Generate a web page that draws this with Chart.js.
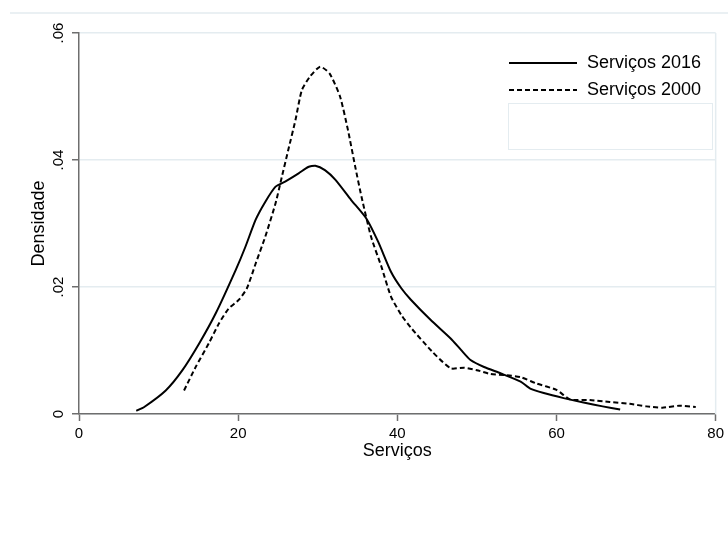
<!DOCTYPE html>
<html>
<head>
<meta charset="utf-8">
<script src="https://cdn.jsdelivr.net/npm/chart.js@4/dist/chart.umd.min.js"></script>
<style>
  html, body { margin: 0; padding: 0; background: #ffffff; }
  #wrap { width: 728px; height: 533px; }
</style>
</head>
<body>
<div id="wrap"><canvas id="c" width="728" height="533"></canvas></div>
<script>
// Kernel density estimates of the services share
const servicos2016X = [7.2, 8.2, 10.9, 13.0, 15.1, 17.2, 19.7, 20.9, 22.2, 23.4, 24.7, 25.9, 27.6, 28.8, 29.7, 30.9, 32.2, 34.2, 36.1, 37.6, 39.2, 40.5, 41.7, 44.2, 46.7, 48.0, 49.2, 50.9, 53.0, 55.5, 56.7, 58.4, 60.9, 63.4, 65.8, 68.0];
const servicos2016Y = [0.0005, 0.0011, 0.0037, 0.0069, 0.0111, 0.0159, 0.0227, 0.0263, 0.0306, 0.0334, 0.0358, 0.0366, 0.0379, 0.0389, 0.0391, 0.0384, 0.0369, 0.0337, 0.0308, 0.0271, 0.0224, 0.0198, 0.0180, 0.0148, 0.0119, 0.0101, 0.0085, 0.0074, 0.0064, 0.0051, 0.0040, 0.0033, 0.0025, 0.0018, 0.0012, 0.0007];

const servicos2000X = [13.2, 14.7, 16.3, 17.6, 18.8, 20.1, 21.1, 22.2, 23.4, 24.7, 25.5, 26.3, 27.2, 28.0, 29.0, 30.3, 31.5, 32.8, 33.8, 34.7, 35.5, 36.7, 38.0, 39.2, 40.5, 41.7, 44.4, 46.7, 48.4, 50.0, 51.7, 53.8, 55.5, 57.5, 60.0, 61.7, 64.2, 66.7, 69.2, 71.3, 73.3, 75.4, 77.5];
const servicos2000Y = [0.0037, 0.0075, 0.0111, 0.0143, 0.0166, 0.0180, 0.0198, 0.0237, 0.0279, 0.0332, 0.0374, 0.0416, 0.0463, 0.0510, 0.0531, 0.0547, 0.0536, 0.0500, 0.0447, 0.0390, 0.0342, 0.0279, 0.0232, 0.0185, 0.0156, 0.0136, 0.0098, 0.0072, 0.0073, 0.0069, 0.0063, 0.0061, 0.0058, 0.0048, 0.0038, 0.0023, 0.0022, 0.0019, 0.0016, 0.0012, 0.0010, 0.0013, 0.0011];

const seriesLabels = ['Serviços 2016', 'Serviços 2000'];
const xTicks = [0, 20, 40, 60, 80];
const yTicks = [0, 0.02, 0.04, 0.06];
const yTickLabels = ['0', '.02', '.04', '.06'];
const xTitle = 'Serviços';
const yTitle = 'Densidade';

const toPoints = (xs, ys) => xs.map((x, i) => ({ x: x, y: ys[i] }));

const FONT = "'Liberation Sans', Arial, sans-serif";
const AXIS = '#6e6e6e';
const LIGHT = '#e4ecf0';

// Light frame lines around the plot region and the outer graph region
const framePlugin = {
  id: 'frame',
  beforeDatasetsDraw(chart) {
    const { ctx, chartArea } = chart;
    ctx.save();
    ctx.strokeStyle = LIGHT;
    ctx.lineWidth = 1.5;
    ctx.beginPath();
    ctx.moveTo(10, 13);
    ctx.lineTo(728, 13);
    ctx.moveTo(chartArea.right, chartArea.top);
    ctx.lineTo(chartArea.right, chartArea.bottom);
    ctx.stroke();
    ctx.restore();
  }
};

// Legend keys drawn inside the plot region, top right
const keyPlugin = {
  id: 'keys',
  afterDraw(chart) {
    const { ctx } = chart;
    ctx.save();
    const x0 = 509, x1 = 577, tx = 587;
    const rows = [63, 90];
    chart.data.datasets.forEach((ds, i) => {
      const y = rows[i];
      ctx.strokeStyle = ds.borderColor;
      ctx.lineWidth = ds.borderWidth;
      ctx.setLineDash(ds.borderDash || []);
      ctx.beginPath();
      ctx.moveTo(x0, y);
      ctx.lineTo(x1, y);
      ctx.stroke();
      ctx.setLineDash([]);
      ctx.fillStyle = '#000';
      ctx.font = '18px ' + FONT;
      ctx.textBaseline = 'middle';
      ctx.textAlign = 'left';
      ctx.fillText(ds.label, tx, y);
    });
    ctx.strokeStyle = LIGHT;
    ctx.lineWidth = 1;
    ctx.strokeRect(508.5, 103.5, 204, 46);
    ctx.restore();
  }
};

new Chart(document.getElementById('c'), {
  type: 'line',
  data: {
    datasets: [
      {
        label: seriesLabels[0],
        data: toPoints(servicos2016X, servicos2016Y),
        borderColor: '#000000',
        borderWidth: 2,
        pointRadius: 0,
        tension: 0.2,
        fill: false
      },
      {
        label: seriesLabels[1],
        data: toPoints(servicos2000X, servicos2000Y),
        borderColor: '#000000',
        borderWidth: 2,
        borderDash: [5, 3],
        pointRadius: 0,
        tension: 0.2,
        fill: false
      }
    ]
  },
  options: {
    responsive: false,
    animation: false,
    events: [],
    layout: { padding: { top: 33, right: 8, left: 0, bottom: 0 } },
    plugins: {
      legend: { display: false },
      tooltip: { enabled: false }
    },
    scales: {
      x: {
        type: 'linear',
        min: 0,
        max: 80,
        afterBuildTicks(scale) { scale.ticks = xTicks.map(v => ({ value: v })); },
        afterFit(scale) { scale.height = 119; },
        grid: { drawOnChartArea: false, drawTicks: true, tickLength: 7, tickColor: AXIS, tickWidth: 1.5 },
        border: { color: AXIS, width: 1.5 },
        ticks: {
          padding: 4,
          color: '#000',
          font: { family: FONT, size: 15 },
          maxRotation: 0,
          callback: v => String(v)
        },
        title: {
          display: true,
          text: xTitle,
          color: '#000',
          font: { family: FONT, size: 18 },
          padding: { top: 0, bottom: 71 }
        }
      },
      y: {
        type: 'linear',
        min: 0,
        max: 0.06,
        afterBuildTicks(scale) { scale.ticks = yTicks.map(v => ({ value: v })); },
        afterFit(scale) { scale.width = 79; },
        grid: {
          color: LIGHT,
          lineWidth: 1.5,
          drawTicks: true,
          tickLength: 7,
          tickColor: AXIS,
          tickWidth: 1.5
        },
        border: { color: AXIS, width: 1.5 },
        ticks: {
          padding: 3,
          color: '#000',
          crossAlign: 'center',
          minRotation: 90,
          maxRotation: 90,
          font: { family: FONT, size: 15 },
          callback: (v) => {
            const i = yTicks.findIndex(t => Math.abs(t - v) < 1e-9);
            return i >= 0 ? yTickLabels[i] : '';
          }
        },
        title: {
          display: true,
          text: yTitle,
          color: '#000',
          font: { family: FONT, size: 18 },
          padding: { top: 28, bottom: 0 }
        }
      }
    }
  },
  plugins: [framePlugin, keyPlugin]
});
</script>
</body>
</html>
